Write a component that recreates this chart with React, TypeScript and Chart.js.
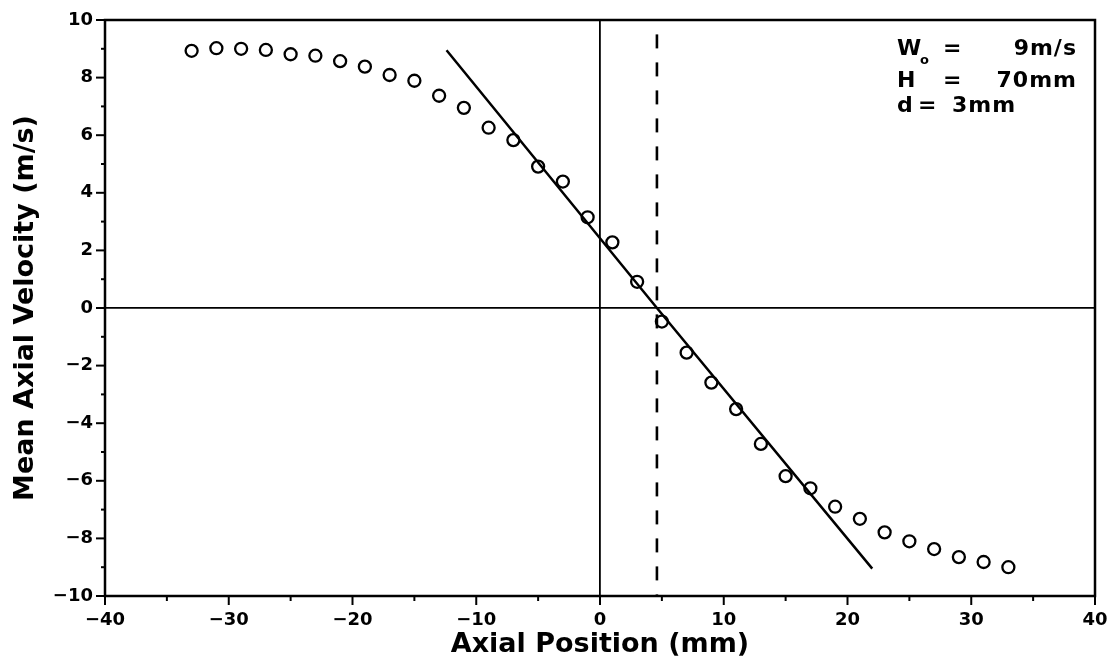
import React, { useEffect, useRef } from 'react';
import { Chart, registerables } from 'chart.js';

Chart.register(...registerables);

const FONT = '"DejaVu Sans", sans-serif';

// Measured mean axial velocity (circles)
const positions = [-33, -31, -29, -27, -25, -23, -21, -19, -17, -15, -13, -11, -9, -7, -5, -3, -1, 1, 3, 5, 7, 9, 11, 13, 15, 17, 19, 21, 23, 25, 27, 29, 31, 33];
const velocities = [8.93, 9.02, 9.0, 8.96, 8.81, 8.76, 8.57, 8.38, 8.09, 7.89, 7.37, 6.95, 6.26, 5.83, 4.91, 4.39, 3.15, 2.28, 0.91, -0.47, -1.55, -2.59, -3.51, -4.72, -5.84, -6.26, -6.9, -7.32, -7.79, -8.1, -8.37, -8.65, -8.82, -9.0];

// Linear fit line
const fitX = [-12.4, 4.6, 22.0];
const fitY = [8.95, 0, -9.05];

// Stagnation point (dashed vertical)
const stagX = [4.6, 4.6];
const stagY = [9.5, -10];

// Axis ticks
const xTickValues = [-40, -30, -20, -10, 0, 10, 20, 30, 40];
const yTickValues = [-10, -8, -6, -4, -2, 0, 2, 4, 6, 8, 10];

const xTitle = 'Axial Position (mm)';
const yTitle = 'Mean Axial Velocity (m/s)';

// Annotation text
const noteSymbols = ['W', 'H', 'd'];
const noteSubscripts = ['o', '', ''];
const noteValues = ['9m/s', '70mm', '3mm'];

const fmt = (v: number) => (v < 0 ? '\u2212' + Math.abs(v) : String(v));

const framePlugin = {
  id: 'frame',
  afterDatasetsDraw(chart: any) {
    const { ctx, chartArea: a, scales } = chart;
    const seg = (x1: number, y1: number, x2: number, y2: number) => {
      ctx.beginPath();
      ctx.moveTo(x1, y1);
      ctx.lineTo(x2, y2);
      ctx.stroke();
    };
    ctx.save();
    ctx.strokeStyle = '#000';
    ctx.lineWidth = 2.5;
    ctx.strokeRect(a.left, a.top, a.right - a.left, a.bottom - a.top);
    ctx.lineWidth = 2;
    const xs = scales.x;
    const xv = xs.ticks.map((t: any) => t.value);
    xv.forEach((v: number, i: number) => {
      const p = xs.getPixelForValue(v);
      seg(p, a.bottom, p, a.bottom + 9);
      if (i < xv.length - 1) {
        const m = xs.getPixelForValue((v + xv[i + 1]) / 2);
        seg(m, a.bottom, m, a.bottom + 5);
      }
    });
    const ys = scales.y;
    const yv = ys.ticks.map((t: any) => t.value);
    yv.forEach((v: number, i: number) => {
      const p = ys.getPixelForValue(v);
      seg(a.left - 9, p, a.left, p);
      if (i < yv.length - 1) {
        const m = ys.getPixelForValue((v + yv[i + 1]) / 2);
        seg(a.left - 4, m, a.left, m);
      }
    });
    ctx.restore();
  },
};

const notePlugin = {
  id: 'note',
  afterDraw(chart: any) {
    const { ctx, chartArea: a } = chart;
    ctx.save();
    ctx.fillStyle = '#000';
    ctx.textBaseline = 'alphabetic';
    const baselines = [a.top + 35, a.top + 67, a.top + 92];
    noteSymbols.forEach((sym, i) => {
      const by = baselines[i];
      ctx.font = `bold 22px ${FONT}`;
      try { (ctx as any).letterSpacing = '1px'; } catch (e) {}
      ctx.textAlign = 'left';
      ctx.fillText(sym, a.right - 198, by);
      const eqX = i === 2 ? a.right - 177 : a.right - 152;
      ctx.fillText('=', eqX, by);
      if (i === 2) {
        ctx.textAlign = 'left';
        ctx.fillText(noteValues[i], a.right - 143, by);
      } else {
        ctx.textAlign = 'right';
        ctx.fillText(noteValues[i], a.right - 18, by);
      }
      if (noteSubscripts[i]) {
        ctx.textAlign = 'left';
        ctx.font = `bold 13px ${FONT}`;
        ctx.fillText(noteSubscripts[i], a.right - 175, by + 9);
      }
    });
    ctx.restore();
  },
};

export default function App() {
  const ref = useRef<HTMLCanvasElement | null>(null);
  useEffect(() => {
    document.body.style.margin = '0';
    const canvas = ref.current;
    if (!canvas) return;
    const zeroColor = (c: any) => (c.tick && c.tick.value === 0 ? '#000' : 'rgba(0,0,0,0)');
    const chart = new Chart(canvas, {
      type: 'scatter',
      data: {
        datasets: [
          {
            label: 'measured',
            data: positions.map((x, i) => ({ x, y: velocities[i] })),
            pointStyle: 'circle',
            pointRadius: 6,
            pointBorderWidth: 2.3,
            pointBackgroundColor: 'rgba(0,0,0,0)',
            pointBorderColor: '#000',
            showLine: false,
          },
          {
            label: 'fit',
            data: fitX.map((x, i) => ({ x, y: fitY[i] })),
            showLine: true,
            borderColor: '#000',
            borderWidth: 2.5,
            pointRadius: 0,
            tension: 0,
          },
          {
            label: 'stagnation',
            data: stagX.map((x, i) => ({ x, y: stagY[i] })),
            showLine: true,
            borderColor: '#000',
            borderWidth: 2.6,
            borderDash: [14, 14],
            pointRadius: 0,
          },
        ],
      },
      options: {
        animation: false,
        responsive: false,
        events: [],
        layout: { padding: { top: 20, right: 20, left: 0, bottom: 0 } },
        plugins: { legend: { display: false }, tooltip: { enabled: false } },
        scales: {
          x: {
            type: 'linear',
            min: -40,
            max: 40,
            afterBuildTicks: (s: any) => { s.ticks = xTickValues.map((v) => ({ value: v })); },
            afterFit: (s: any) => { s.height = 70; s.paddingLeft = 0; s.paddingRight = 0; },
            grid: { display: true, drawOnChartArea: true, drawTicks: false, color: zeroColor, lineWidth: 1.8 },
            border: { display: false },
            ticks: {
              autoSkip: false,
              maxRotation: 0,
              padding: 14,
              color: '#000',
              font: { family: FONT, size: 18, weight: 'bold' },
              callback: (v: any) => fmt(Number(v)),
            },
            title: {
              display: true,
              text: xTitle,
              color: '#000',
              font: { family: FONT, size: 27, weight: 'bold' },
              padding: { top: 0, bottom: 5 },
            },
          },
          y: {
            type: 'linear',
            min: -10,
            max: 10,
            afterBuildTicks: (s: any) => { s.ticks = yTickValues.map((v) => ({ value: v })); },
            afterFit: (s: any) => { s.width = 105; s.paddingTop = 0; s.paddingBottom = 0; },
            grid: { display: true, drawOnChartArea: true, drawTicks: false, color: zeroColor, lineWidth: 1.8 },
            border: { display: false },
            ticks: {
              autoSkip: false,
              padding: 12,
              color: '#000',
              font: { family: FONT, size: 18, weight: 'bold' },
              callback: (v: any) => fmt(Number(v)),
            },
            title: {
              display: true,
              text: yTitle,
              color: '#000',
              font: { family: FONT, size: 27, weight: 'bold' },
              padding: { top: 10, bottom: 0 },
            },
          },
        },
      } as any,
      plugins: [framePlugin, notePlugin],
    });
    return () => chart.destroy();
  }, []);
  return (
    <div style={{ width: 1115, height: 666 }}>
      <canvas ref={ref} width={1115} height={666} style={{ display: 'block' }} />
    </div>
  );
}
